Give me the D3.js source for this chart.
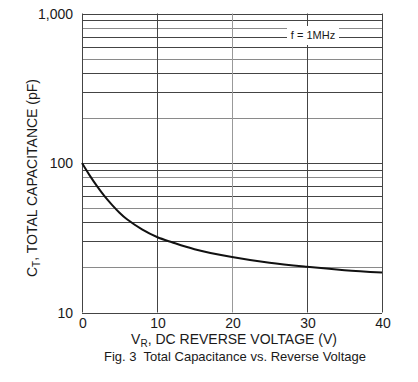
<!DOCTYPE html>
<html>
<head>
<meta charset="utf-8">
<script src="https://cdn.jsdelivr.net/npm/d3@7"></script>
<style>
  body { margin: 0; background: #fff; }
  text { font-family: "Liberation Sans", Arial, sans-serif; fill: #1a1a1a; }
</style>
</head>
<body>
<script>
// data
let voltage = [0, 1, 2, 3, 4, 5, 6, 8, 10, 12, 15, 20, 25, 30, 35, 40];
let capacitance = [100, 83, 70, 60, 52.5, 46.5, 42, 36, 32, 29.5, 26.5, 23.5, 21.5, 20.2, 19.2, 18.5];
let xTicks = [0, 10, 20, 30, 40];
let yTicks = [10, 100, 1000];
let yTickLabels = ["10", "100", "1,000"];

let width = 418;
let height = 382;
let svg = d3.select("body").append("svg")
  .attr("width", width)
  .attr("height", height);

let x = d3.scaleLinear().domain([0, 40]).range([82, 382]);
let y = d3.scaleLog().domain([10, 1000]).range([312.5, 13.5]);

// horizontal grid on every log step
let yGrid = [];
for (let d = 10; d < 1000; d *= 10) {
  for (let k = 1; k <= 10; k++) yGrid.push(d * k);
}
yGrid = Array.from(new Set(yGrid));

svg.append("g").selectAll("line")
  .data(yGrid)
  .enter()
  .append("line")
  .attr("x1", x(0))
  .attr("x2", x(40))
  .attr("y1", d => Math.round(y(d)) + 0.5)
  .attr("y2", d => Math.round(y(d)) + 0.5)
  .attr("stroke", (d, i) => i % 3 == 1 ? "#8a8a8a" : "#444")
  .attr("stroke-width", 1);

svg.append("g").selectAll("line")
  .data(xTicks)
  .enter()
  .append("line")
  .attr("x1", d => Math.round(x(d)) + 0.5)
  .attr("x2", d => Math.round(x(d)) + 0.5)
  .attr("y1", y(1000))
  .attr("y2", y(10))
  .attr("stroke", d => d == 20 ? "#999" : "#444")
  .attr("stroke-width", 1);

// frequency note, with white patch breaking the grid
svg.append("rect")
  .attr("x", 287)
  .attr("y", 26)
  .attr("width", 52)
  .attr("height", 19)
  .attr("fill", "#fff");
svg.append("text")
  .attr("x", 313)
  .attr("y", 39)
  .attr("text-anchor", "middle")
  .attr("font-size", 11)
  .text("f = 1MHz");

// curve
let line = d3.line()
  .x((d, i) => x(voltage[i]))
  .y(d => y(d))
  .curve(d3.curveCatmullRom);

svg.append("path")
  .attr("d", line(capacitance))
  .attr("fill", "none")
  .attr("stroke", "#111")
  .attr("stroke-width", 2);

// tick labels
svg.append("g").selectAll("text")
  .data(xTicks)
  .enter()
  .append("text")
  .attr("x", d => x(d) + 1)
  .attr("y", 328)
  .attr("text-anchor", "middle")
  .attr("font-size", 14)
  .text(d => d);

svg.append("g").selectAll("text")
  .data(yTicks)
  .enter()
  .append("text")
  .attr("x", 73)
  .attr("y", d => y(d) + 5)
  .attr("text-anchor", "end")
  .attr("font-size", 14)
  .text((d, i) => yTickLabels[i]);

// axis titles
let xt = svg.append("text")
  .attr("x", 234)
  .attr("y", 344)
  .attr("text-anchor", "middle")
  .attr("font-size", 14);
xt.append("tspan").text("V");
xt.append("tspan").attr("font-size", 10).attr("dy", 3).text("R");
xt.append("tspan").attr("dy", -3).text(", DC REVERSE VOLTAGE (V)");

let yt = svg.append("text")
  .attr("transform", "translate(37,178) rotate(-90)")
  .attr("text-anchor", "middle")
  .attr("font-size", 14);
yt.append("tspan").text("C");
yt.append("tspan").attr("font-size", 10).attr("dy", 3).text("T");
yt.append("tspan").attr("dy", -3).text(", TOTAL CAPACITANCE (pF)");

svg.append("text")
  .attr("x", 235)
  .attr("y", 361)
  .attr("text-anchor", "middle")
  .attr("font-size", 13)
  .attr("xml:space", "preserve")
  .text("Fig. 3  Total Capacitance vs. Reverse Voltage");
</script>
</body>
</html>
